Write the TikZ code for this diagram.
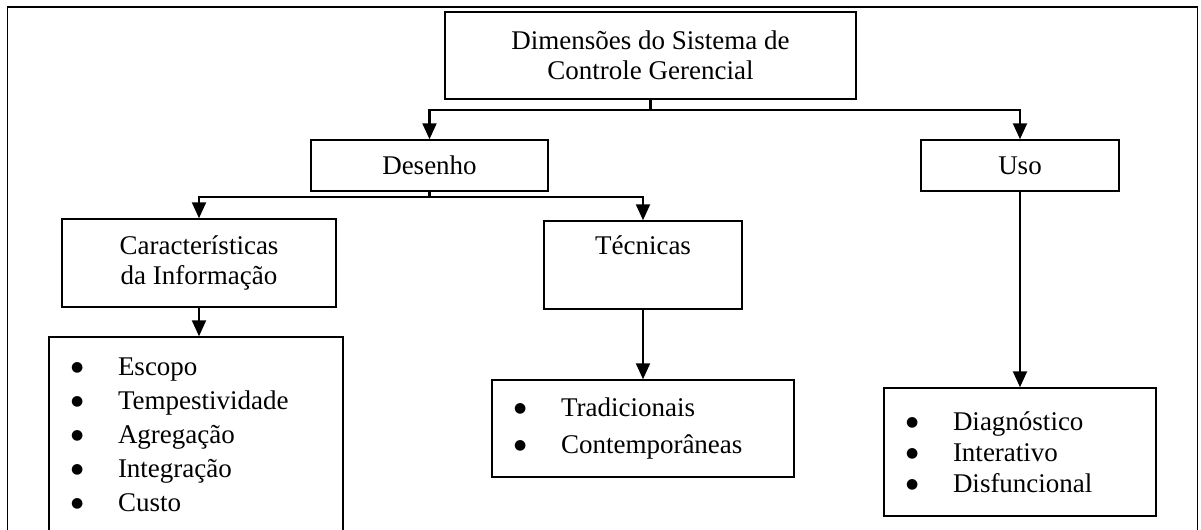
\documentclass[tikz,border=0pt]{standalone}
\usepackage{fontspec}
\setmainfont{Liberation Serif}
\newfontfamily\simbolo{DejaVu Sans}
\usetikzlibrary{arrows.meta}
\newcommand{\topico}[1]{\makebox[23.5pt][l]{\raisebox{2pt}{\simbolo\fontsize{7}{7}\selectfont ●}}#1}
\tikzset{
	caixa/.style={draw, line width=0.75pt, inner sep=0pt, align=center, font=\fontsize{13.5}{15}\selectfont},
	lista/.style={draw, line width=0.75pt, inner xsep=11pt, inner ysep=0pt, align=left, font=\fontsize{13.5}{17}\selectfont},
	seta/.style={line width=1.1pt, -{Triangle[width=7pt,length=8pt]}}
}
\begin{document}
\begin{tikzpicture}[x=0.5pt, y=-0.5pt]
	\useasboundingbox (0,0) rectangle (1201,530);
	\clip (0,0) rectangle (1201,530);
	\draw[line width=0.75pt] (7.5,540) -- (7.5,7) -- (1197.5,7) -- (1197.5,540);
	\node[caixa, minimum width=205.5pt, minimum height=43.5pt] (dimensoes) at (650.5,55.5) {Dimensões do Sistema de\\Controle Gerencial};
	\node[caixa, minimum width=118.5pt, minimum height=25.5pt] (desenho) at (429.5,165.5) {Desenho};
	\node[caixa, minimum width=99pt, minimum height=25.5pt] (uso) at (1020,165.5) {Uso};
	\node[caixa, minimum width=137pt, minimum height=44pt] (caracteristicas) at (199,263) {Características\\da Informação};
	\node[caixa, minimum width=99pt, minimum height=44pt] (tecnicas) at (643,265) {Técnicas\\\strut};
	\node[lista, text width=125pt, minimum height=98pt] (lista1) at (196,435) {\topico{Escopo}\\\topico{Tempestividade}\\\topico{Agregação}\\\topico{Integração}\\\topico{Custo}};
	\node[lista, text width=129pt, minimum height=48.5pt, font=\fontsize{13.5}{18.5}\selectfont] (lista2) at (643,428.5) {\topico{Tradicionais}\\\topico{Contemporâneas}};
	\node[lista, text width=114pt, minimum height=64pt, font=\fontsize{13.5}{15.5}\selectfont] (lista3) at (1020,452) {\topico{Diagnóstico}\\\topico{Interativo}\\\topico{Disfuncional}};
	\draw[seta] (dimensoes.south) -- ++(0,10) -| (desenho.north);
	\draw[seta] (dimensoes.south) -- ++(0,10) -| (uso.north);
	\draw[seta] (desenho.south) -- ++(0,5) -| (caracteristicas.north);
	\draw[seta] (desenho.south) -- ++(0,5) -| (tecnicas.north);
	\draw[seta] (caracteristicas.south) -- (caracteristicas.south |- lista1.north);
	\draw[seta] (tecnicas.south) -- (lista2.north);
	\draw[seta] (uso.south) -- (lista3.north);
\end{tikzpicture}
\end{document}
